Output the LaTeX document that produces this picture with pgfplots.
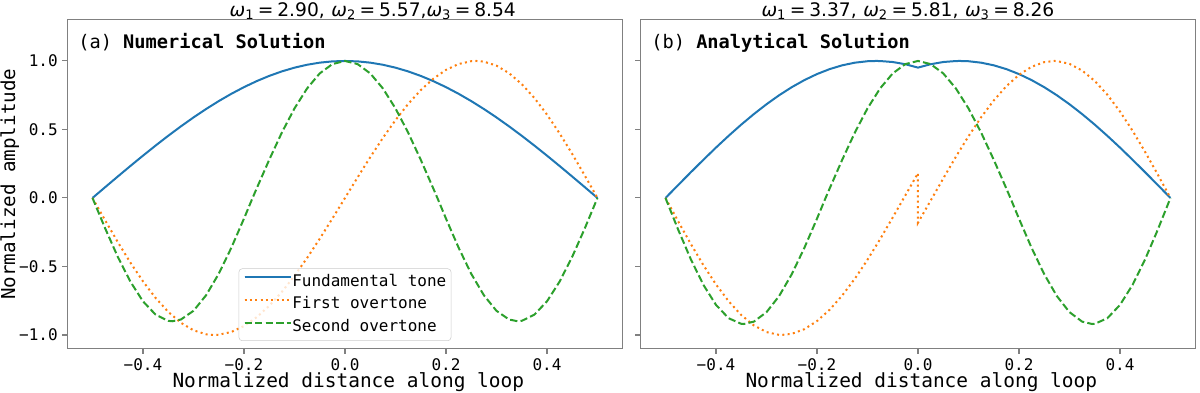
\documentclass[border=0pt]{standalone}
\usepackage{fontspec}
\setmainfont{DejaVu Sans}
\newfontfamily\mono{DejaVu Sans Mono}
\usepackage{pgfplots}
\pgfplotsset{compat=1.18}

\definecolor{c0}{HTML}{1F77B4}
\definecolor{c1}{HTML}{FF7F0E}
\definecolor{c2}{HTML}{2CA02C}

\newcommand{\om}[1]{\textit{ω}\textsubscript{#1}\kern0.2em=\kern0.2em}

\pgfplotsset{panel/.style={
  scale only axis, width=416.6pt, height=246.6pt,
  xmin=-0.55, xmax=0.55, ymin=-1.1, ymax=1.3,
  axis line style={black!50, line width=0.8pt},
  tick align=outside, tick pos=left, major tick length=3.65pt,
  every tick/.style={black!50, line width=0.8pt},
  xtick={-0.4,-0.2,0,0.2,0.4},
  xticklabels={−0.4,−0.2,0.0,0.2,0.4},
  ytick={-1,-0.5,0,0.5,1},
  ticklabel style={font=\mono\fontsize{12}{14}\selectfont, text=black},
  xlabel={Normalized distance along loop},
  xlabel style={font=\mono\fontsize{14.6}{16}\selectfont, at={(axis description cs:0.506,-0.118)}, anchor=base},
  ylabel style={font=\mono\fontsize{14.4}{16}\selectfont, at={(axis description cs:-0.094,0.5)}, anchor=base},
  clip=false,
}}

\begin{document}
\begin{tikzpicture}
% (a) numerical
\begin{axis}[panel,
  yticklabels={−1.0,−0.5,0.0,0.5,1.0},
  ylabel={Normalized amplitude},
  legend style={at={(axis description cs:0.5,0.0234)}, anchor=south,
    font=\mono\fontsize{12}{14}\selectfont,
    draw=black!20, rounded corners=2.5pt, fill=white, fill opacity=0.8, text opacity=1,
    inner xsep=3.5pt, inner ysep=4pt, row sep=5.6pt,
    nodes={inner sep=0pt, text height=9pt, text depth=2.6pt},
    cells={anchor=west}},
  legend image code/.code={\draw[#1] (0pt,3.8pt) -- (26pt,3.8pt); \path (0pt,3.8pt) -- (35pt,3.8pt);},
]
\addplot[c0, line width=1.5pt] coordinates {
(-0.5,0) (-0.475,0.0785) (-0.45,0.1564) (-0.425,0.2334) (-0.4,0.3090) (-0.375,0.3827)
(-0.35,0.4540) (-0.325,0.5225) (-0.3,0.5878) (-0.275,0.6494) (-0.25,0.7071) (-0.225,0.7604)
(-0.2,0.8090) (-0.175,0.8526) (-0.15,0.8910) (-0.125,0.9239) (-0.1,0.9511) (-0.075,0.9724)
(-0.05,0.9877) (-0.025,0.9969) (0,1)
(0.025,0.9969) (0.05,0.9877) (0.075,0.9724) (0.1,0.9511) (0.125,0.9239) (0.15,0.8910)
(0.175,0.8526) (0.2,0.8090) (0.225,0.7604) (0.25,0.7071) (0.275,0.6494) (0.3,0.5878)
(0.325,0.5225) (0.35,0.4540) (0.375,0.3827) (0.4,0.3090) (0.425,0.2334) (0.45,0.1564)
(0.475,0.0785) (0.5,0)};
\addlegendentry{Fundamental tone}
\addplot[c1, line width=1.5pt, dash pattern=on 1.5pt off 2.5pt] coordinates {
(-0.5,0) (-0.475,-0.1629) (-0.45,-0.3214) (-0.425,-0.4714) (-0.4,-0.6088) (-0.375,-0.7300)
(-0.35,-0.8315) (-0.325,-0.9109) (-0.3,-0.9659) (-0.275,-0.9952) (-0.26,-1) (-0.25,-0.9982)
(-0.225,-0.9778) (-0.2,-0.9350) (-0.175,-0.8708) (-0.15,-0.7872) (-0.125,-0.6856)
(-0.1,-0.5681) (-0.075,-0.4378) (-0.05,-0.2975) (-0.025,-0.1504) (0,0)
(0.025,0.1504) (0.05,0.2975) (0.075,0.4378) (0.1,0.5681) (0.125,0.6856) (0.15,0.7872)
(0.175,0.8708) (0.2,0.9350) (0.225,0.9778) (0.25,0.9982) (0.26,1) (0.275,0.9952)
(0.3,0.9659) (0.325,0.9109) (0.35,0.8315) (0.375,0.7300) (0.4,0.6088) (0.425,0.4714)
(0.45,0.3214) (0.475,0.1629) (0.5,0)};
\addlegendentry{First overtone}
\addplot[c2, line width=1.5pt, dash pattern=on 5.5pt off 2.4pt] coordinates {
(-0.5,0) (-0.475,-0.2211) (-0.45,-0.4293) (-0.425,-0.6105) (-0.4,-0.7546) (-0.375,-0.8520)
(-0.35,-0.8971) (-0.342,-0.9) (-0.325,-0.8873) (-0.3,-0.8238) (-0.275,-0.7098)
(-0.25,-0.5533) (-0.225,-0.3628) (-0.2,-0.1504) (-0.183,0) (-0.175,0.0686) (-0.15,0.2792)
(-0.125,0.4776) (-0.1,0.6537) (-0.075,0.7998) (-0.05,0.9093) (-0.025,0.9771) (0,1)
(0.025,0.9771) (0.05,0.9093) (0.075,0.7998) (0.1,0.6537) (0.125,0.4776) (0.15,0.2792)
(0.175,0.0686) (0.183,0) (0.2,-0.1504) (0.225,-0.3628) (0.25,-0.5533) (0.275,-0.7098)
(0.3,-0.8238) (0.325,-0.8873) (0.342,-0.9) (0.35,-0.8971) (0.375,-0.8520) (0.4,-0.7546)
(0.425,-0.6105) (0.45,-0.4293) (0.475,-0.2211) (0.5,0)};
\addlegendentry{Second overtone}
\node[anchor=base west, inner sep=0pt, font=\mono\fontsize{14}{16}\selectfont]
  at (axis description cs:0.0194,0.9127) {(a) \textbf{Numerical Solution}};
\node[anchor=base, inner sep=0pt, font=\fontsize{14}{16}\selectfont]
  at (axis description cs:0.550,1.010) {\om{1}2.90,\kern0.35em \om{2}5.57,\om{3}8.54};
\end{axis}

% (b) analytical
\begin{axis}[panel, at={(429.75pt,0pt)}, yticklabels={}]
\addplot[c0, line width=1.5pt] coordinates {
(-0.5,0) (-0.475,0.0940) (-0.45,0.1872) (-0.425,0.2785) (-0.4,0.3679) (-0.375,0.4536)
(-0.35,0.5355) (-0.325,0.6124) (-0.3,0.6841) (-0.275,0.7497) (-0.25,0.8086) (-0.225,0.8603)
(-0.2,0.9044) (-0.175,0.9405) (-0.15,0.9683) (-0.125,0.9875) (-0.1,0.9980) (-0.083,1)
(-0.075,0.9995) (-0.05,0.9923) (-0.025,0.9762) (0,0.9515)
(0.025,0.9762) (0.05,0.9923) (0.075,0.9995) (0.083,1) (0.1,0.9980) (0.125,0.9875)
(0.15,0.9683) (0.175,0.9405) (0.2,0.9044) (0.225,0.8603) (0.25,0.8086) (0.275,0.7497)
(0.3,0.6841) (0.325,0.6124) (0.35,0.5355) (0.375,0.4536) (0.4,0.3679) (0.425,0.2785)
(0.45,0.1872) (0.475,0.0940) (0.5,0)};
\addplot[c1, line width=1.5pt, dash pattern=on 1.5pt off 2.5pt] coordinates {
(-0.5,0) (-0.475,-0.1699) (-0.45,-0.3349) (-0.425,-0.4902) (-0.4,-0.6311) (-0.375,-0.7537)
(-0.35,-0.8544) (-0.325,-0.9304) (-0.3,-0.9790) (-0.275,-0.9994) (-0.27,-1) (-0.25,-0.9916)
(-0.225,-0.9576) (-0.2,-0.8986) (-0.175,-0.8160) (-0.15,-0.7117) (-0.125,-0.5891)
(-0.1,-0.4506) (-0.075,-0.3004) (-0.05,-0.1421) (-0.025,0.0195) (0,0.1806)
(0,-0.1806) (0.025,-0.0195) (0.05,0.1421) (0.075,0.3004) (0.1,0.4506) (0.125,0.5891)
(0.15,0.7117) (0.175,0.8160) (0.2,0.8986) (0.225,0.9576) (0.25,0.9916) (0.27,1)
(0.275,0.9994) (0.3,0.9790) (0.325,0.9304) (0.35,0.8544) (0.375,0.7537) (0.4,0.6311)
(0.425,0.4902) (0.45,0.3349) (0.475,0.1699) (0.5,0)};
\addplot[c2, line width=1.5pt, dash pattern=on 5.5pt off 2.4pt] coordinates {
(-0.5,0) (-0.475,-0.2305) (-0.45,-0.4463) (-0.425,-0.6339) (-0.4,-0.7807) (-0.375,-0.8778)
(-0.35,-0.9188) (-0.345,-0.92) (-0.325,-0.9027) (-0.3,-0.8336) (-0.275,-0.7160)
(-0.25,-0.5565) (-0.225,-0.3644) (-0.2,-0.1510) (-0.183,0) (-0.175,0.0686) (-0.15,0.2792)
(-0.125,0.4776) (-0.1,0.6537) (-0.075,0.7998) (-0.05,0.9093) (-0.025,0.9771) (0,1)
(0.025,0.9771) (0.05,0.9093) (0.075,0.7998) (0.1,0.6537) (0.125,0.4776) (0.15,0.2792)
(0.175,0.0686) (0.183,0) (0.2,-0.1510) (0.225,-0.3644) (0.25,-0.5565) (0.275,-0.7160)
(0.3,-0.8336) (0.325,-0.9027) (0.345,-0.92) (0.35,-0.9188) (0.375,-0.8778) (0.4,-0.7807)
(0.425,-0.6339) (0.45,-0.4463) (0.475,-0.2305) (0.5,0)};
\node[anchor=base west, inner sep=0pt, font=\mono\fontsize{14}{16}\selectfont]
  at (axis description cs:0.0194,0.9127) {(b) \textbf{Analytical Solution}};
\node[anchor=base, inner sep=0pt, font=\fontsize{14}{16}\selectfont]
  at (axis description cs:0.482,1.010) {\om{1}3.37,\kern0.35em \om{2}5.81,\kern0.35em \om{3}8.26};
\end{axis}

\pgfresetboundingbox
\path[use as bounding box] (-50.44pt,-33.2pt) rectangle (849.56pt,261.5pt);
\end{tikzpicture}
\end{document}
